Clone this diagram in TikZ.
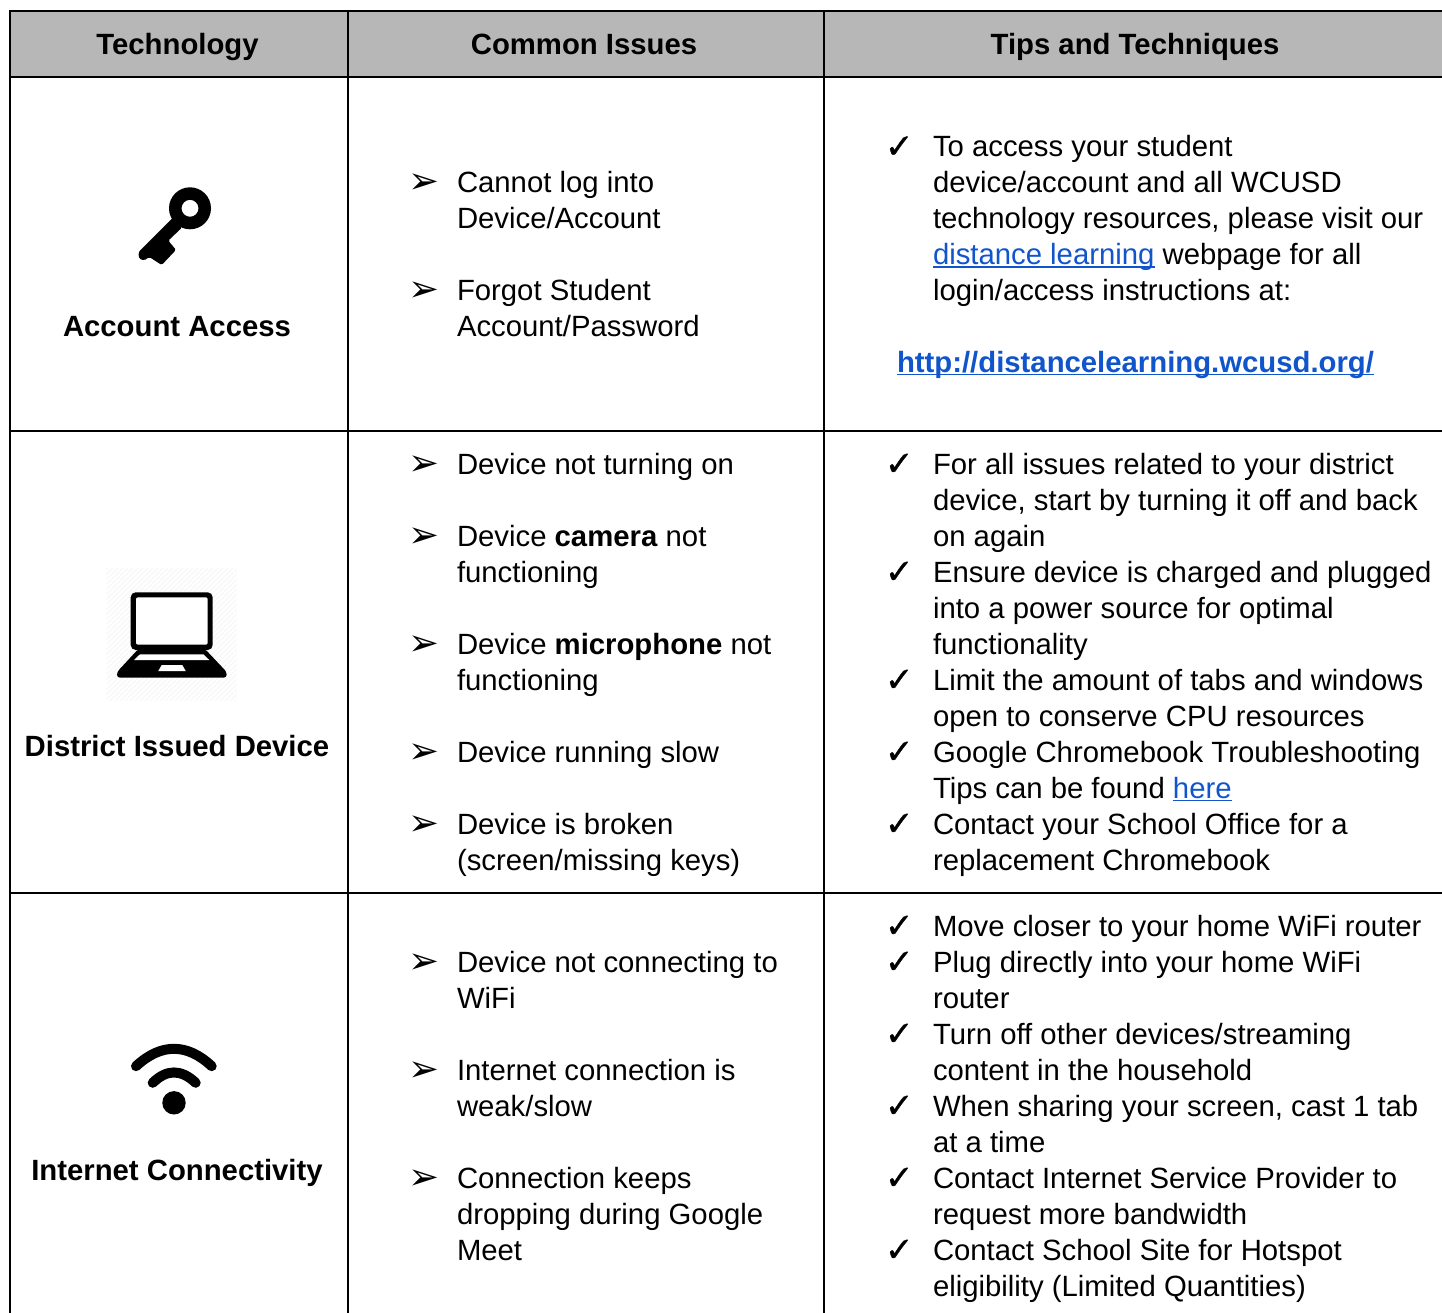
\documentclass[tikz,border=0pt]{standalone}
\usepackage{fontspec}
\setmainfont{Liberation Sans}
\newfontfamily\symfont{DejaVu Sans}
\newfontfamily\chkfont[FakeBold=1.0]{DejaVu Sans}
\usetikzlibrary{calc}
\definecolor{headgray}{HTML}{B7B7B7}
\definecolor{linkblue}{HTML}{1155CC}
\newcounter{tn}
\newsavebox{\lnkbox}
\newcommand{\lnk}[1]{\sbox{\lnkbox}{\textcolor{linkblue}{#1}}\textcolor{linkblue}{\rlap{\rule[-3.4pt]{\wd\lnkbox}{1.6pt}}}\usebox{\lnkbox}}
\tikzset{
  txt/.style={inner sep=0pt,outer sep=0pt,anchor=base west,font=\fontsize{29.3pt}{36pt}\selectfont,text=black},
  head/.style={inner sep=0pt,outer sep=0pt,anchor=base,font=\fontsize{29.3pt}{36pt}\selectfont\bfseries,text=black},
  mark arrow/.style={inner sep=0pt,outer sep=0pt,anchor=base west,font=\fontsize{37pt}{36pt}\symfont,text=black},
  mark check/.style={inner sep=0pt,outer sep=0pt,anchor=base west,font=\fontsize{34pt}{36pt}\chkfont,text=black},
  grid/.style={line width=2pt,draw=black}
}
% text line: x, centre y, text
\newcommand{\TL}[3]{\stepcounter{tn}\node[txt] (t\thetn) at (#1,#2+10) {#3};}
\newcommand{\HD}[3]{\stepcounter{tn}\node[head] (t\thetn) at (#1,#2+10.7) {#3};}
\newcommand{\AR}[3]{\stepcounter{tn}\node[mark arrow] (t\thetn) at (408.7,#1+11) {\symbol{"27A2}};\TL{457}{#1}{#2}\ifx\relax#3\relax\else\TL{457}{#1+36}{#3}\fi}
\newcommand{\CK}[2]{\stepcounter{tn}\node[mark check] (t\thetn) at (885,#1+11.2) {\symbol{"2713}};\TL{933}{#1}{#2}}
\begin{document}
\begin{tikzpicture}[x=1pt,y=-1pt]
\useasboundingbox (0,0) rectangle (1442,1313);
\fill[white] (0,0) rectangle (1442,1313);
\fill[headgray] (10,11) rectangle (1442,77);
% grid
\draw[grid] (1442,11) -- (10,11) -- (10,1313);
\draw[grid] (348,11) -- (348,1313);
\draw[grid] (824,11) -- (824,1313);
\draw[grid] (10,77) -- (1442,77);
\draw[grid] (10,431) -- (1442,431);
\draw[grid] (10,893) -- (1442,893);
% header
\HD{177.5}{44}{Technology}
\HD{584}{44}{Common Issues}
\HD{1135}{44}{Tips and Techniques}
\HD{177}{326}{Account Access}
\HD{177}{746}{District Issued Device}
\HD{177}{1170}{Internet Connectivity}
% key icon
\fill[black,even odd rule] (190,208.3) circle (21) (190,208.3) circle (8.5);
\fill[black,rounded corners=1.5pt] (173,217.6) -- (140.5,250) -- (138.5,252.5) -- (139,258.5) -- (144,260.5) -- (149.3,257) -- (161.7,265) -- (176,249.9) -- (168.3,240.6) -- (182,227.6) -- cycle;
% laptop icon
\begin{scope}
\clip (106.7,568) rectangle (236.7,700);
\foreach \k in {0,5,...,280}{\draw[line width=1.2pt,draw=black!3] (\k-40,706) -- (\k+100,566);}
\end{scope}
\fill[black,rounded corners=5pt] (130.7,592.3) rectangle (212.7,650);
\fill[white,rounded corners=2pt] (136,597.3) rectangle (207.7,644.7);
\fill[black,rounded corners=3pt] (138.3,649) -- (205,649) -- (226.7,672) -- (226.7,677.7) -- (117,677.7) -- (117,672) -- cycle;
\fill[white] (140,654.3) -- (203.3,654.3) -- (209.3,660) -- (134,660) -- cycle;
\fill[white] (161.7,665) -- (182.3,665) -- (185.7,671) -- (158.3,671) -- cycle;
% wifi icon
\fill[black] (174,1102.8) circle (11.7);
\draw[black,line width=10pt,line cap=round] (136,1066.2) .. controls (161,1043) and (187,1043) .. (211.7,1066.2);
\draw[black,line width=10pt,line cap=round] (152.7,1082.8) .. controls (167,1069) and (181,1069) .. (195.7,1082.8);
% issues
\AR{182.7}{Cannot log into}{Device/Account}
\AR{290.7}{Forgot Student}{Account/Password}
\AR{464}{Device not turning on}{}
\AR{536}{Device \textbf{camera} not}{functioning}
\AR{644}{Device \textbf{microphone} not}{functioning}
\AR{752}{Device running slow}{}
\AR{824}{Device is broken}{(screen/missing keys)}
\AR{962}{Device not connecting to}{WiFi}
\AR{1070}{Internet connection is}{weak/slow}
\AR{1178}{Connection keeps}{dropping during Google}
\TL{457}{1250}{Meet}
% tips
\CK{146.7}{To access your student}
\TL{933}{182.7}{device/account and all WCUSD}
\TL{933}{218.7}{technology resources, please visit our}
\TL{933}{254.7}{\lnk{distance learning} webpage for all}
\TL{933}{290.7}{login/access instructions at:}
\TL{897}{362}{\lnk{\textbf{http://distancelearning.wcusd.org/}}}
\CK{464}{For all issues related to your district}
\TL{933}{500}{device, start by turning it off and back}
\TL{933}{536}{on again}
\CK{572}{Ensure device is charged and plugged}
\TL{933}{608}{into a power source for optimal}
\TL{933}{644}{functionality}
\CK{680}{Limit the amount of tabs and windows}
\TL{933}{716}{open to conserve CPU resources}
\CK{752}{Google Chromebook Troubleshooting}
\TL{933}{788}{Tips can be found \lnk{here}}
\CK{824}{Contact your School Office for a}
\TL{933}{860}{replacement Chromebook}
\CK{926}{Move closer to your home WiFi router}
\CK{962}{Plug directly into your home WiFi}
\TL{933}{998}{router}
\CK{1034}{Turn off other devices/streaming}
\TL{933}{1070}{content in the household}
\CK{1106}{When sharing your screen, cast 1 tab}
\TL{933}{1142}{at a time}
\CK{1178}{Contact Internet Service Provider to}
\TL{933}{1214}{request more bandwidth}
\CK{1250}{Contact School Site for Hotspot}
\TL{933}{1286}{eligibility (Limited Quantities)}
\end{tikzpicture}
\end{document}
